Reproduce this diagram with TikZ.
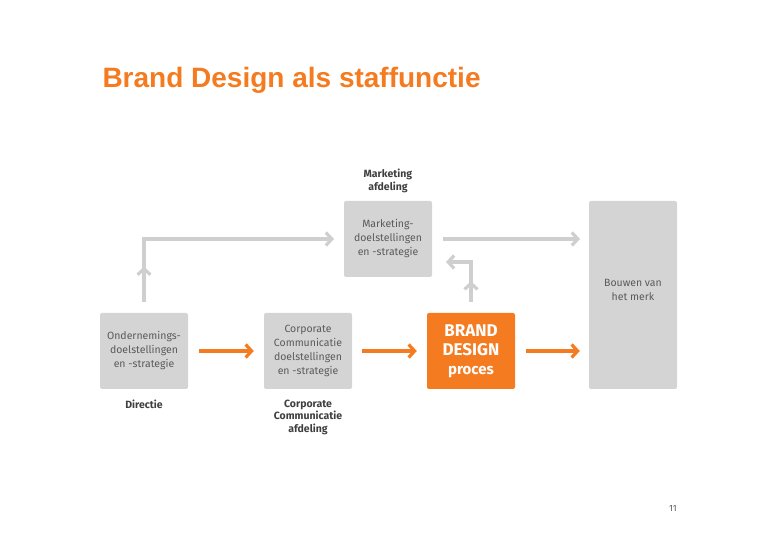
\documentclass[tikz,border=0pt]{standalone}
\usepackage{fontspec}
\setmainfont{Fira Sans}
\newfontfamily\titlefont{Liberation Sans}
\usetikzlibrary{arrows.meta,decorations.markings}
\definecolor{org}{HTML}{F47B20}
\definecolor{box}{HTML}{D4D4D4}
\definecolor{gline}{HTML}{CFCFCF}
\definecolor{txt}{HTML}{5A5A5A}
\begin{document}
\begin{tikzpicture}[x=1pt,y=-1pt,
  gbox/.style={fill=box,rounded corners=2pt,minimum width=88pt,align=center,text=txt,font=\fontsize{10.5}{14}\selectfont,inner sep=0pt},
  obox/.style={gbox,fill=org,text=white},
  lbl/.style={align=center,text=txt!70!black,font=\fontsize{10.5}{12.5}\selectfont\bfseries},
  oarr/.style={draw=org,line width=3.2pt,-{Straight Barb[length=6pt,width=13pt]}},
  garr/.style={draw=gline,line width=3.2pt,-{Straight Barb[length=6pt,width=13pt]}},
  midchev/.style={postaction={decorate},decoration={markings,mark=at position #1 with {\arrow[gline,line width=3.2pt]{Straight Barb[length=6pt,width=13pt]}}}}]
\useasboundingbox (0,0) rectangle (780,540);
\node[anchor=west,text=org,font=\titlefont\fontsize{28}{32}\selectfont\bfseries] (title) at (99,80) {Brand Design als staffunctie};
\node[gbox,minimum height=76pt] (ond) at (144,351) {Ondernemings-\\doelstellingen\\en -strategie};
\node[gbox,minimum height=76pt] (cc) at (308,351) {Corporate\\Communicatie\\doelstellingen\\en -strategie};
\node[obox,minimum height=76pt,font=\fontsize{17}{19}\selectfont\bfseries] (bd) at (471,351) {BRAND\\DESIGN\\{\fontsize{15}{18}\selectfont proces}};
\node[gbox,minimum height=76pt] (mk) at (388,239) {Marketing-\\doelstellingen\\en -strategie};
\node[gbox,minimum height=188pt,text depth=10pt] (bw) at (633,295) {Bouwen van\\het merk};
\node[lbl] (l1) at (388,181) {Marketing\\afdeling};
\node[lbl] (l2) at (144,404) {Directie};
\node[lbl] (l3) at (308,417) {Corporate\\Communicatie\\afdeling};
\node[font=\fontsize{9}{10}\selectfont,text=txt] (pg) at (673,508) {11};
\coordinate (a1) at (144,302); \coordinate (a2) at (144,239); \coordinate (a3) at (334,239);
\draw[garr,midchev=0.14] (a1) -- (a2) -- (a3);
\coordinate (b1) at (471,302); \coordinate (b2) at (471,262); \coordinate (b3) at (446,262);
\draw[garr,midchev=0.32] (b1) -- (b2) -- (b3);
\coordinate (c1) at (443,239); \coordinate (c2) at (580,239);
\draw[garr] (c1) -- (c2);
\draw[oarr] ([xshift=11pt]ond.east) -- ([xshift=-10pt]cc.west);
\draw[oarr] ([xshift=10pt]cc.east) -- ([xshift=-10pt]bd.west);
\draw[oarr] ([xshift=11pt]bd.east) -- ([xshift=-9pt]bw.west |- bd.east);
\end{tikzpicture}
\end{document}
